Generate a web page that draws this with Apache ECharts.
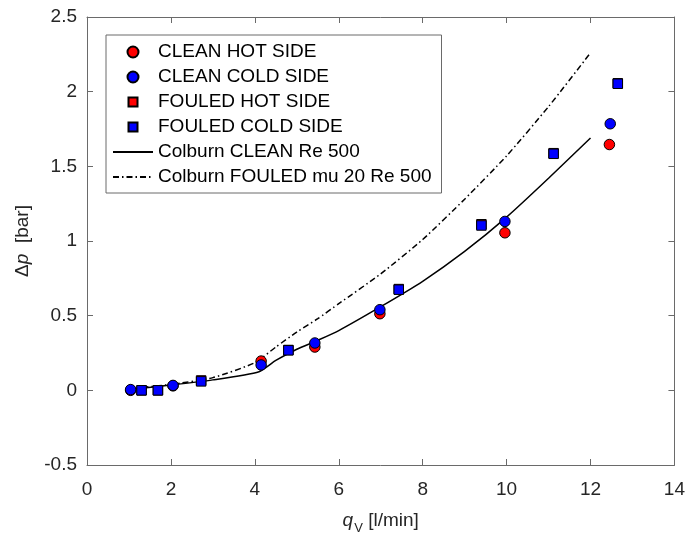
<!DOCTYPE html>
<html>
<head>
<meta charset="utf-8">
<script src="https://cdn.jsdelivr.net/npm/echarts@6/dist/echarts.min.js"></script>
<style>
  html, body { margin: 0; padding: 0; background: #fff; }
  #main { width: 688px; height: 540px; }
</style>
</head>
<body>
<div id="main"></div>
<script>
// values: [q_v (l/min), dp (bar)]
const cleanHot = [[1.04, 0.0], [2.05, 0.03], [4.15, 0.196], [5.43, 0.29], [6.98, 0.513], [9.96, 1.055], [12.45, 1.646]];
const cleanCold = [[1.04, 0.005], [2.05, 0.033], [4.15, 0.17], [5.43, 0.317], [6.98, 0.54], [9.96, 1.131], [12.47, 1.785]];
const fouledHot = [[1.30, 0.0], [1.69, 0.0], [2.72, 0.066], [4.80, 0.27], [7.43, 0.678], [9.40, 1.112], [11.12, 1.588], [12.65, 2.056]];
const fouledCold = [[1.30, 0.0], [1.69, 0.0], [2.72, 0.06], [4.80, 0.268], [7.43, 0.674], [9.40, 1.104], [11.12, 1.584], [12.65, 2.053]];

const colburnClean = [[1.0, 0.005], [2.0, 0.035], [3.0, 0.07], [4.1, 0.125], [4.5, 0.2], [5.0, 0.275], [5.5, 0.335],
  [6.0, 0.40], [7.0, 0.56], [8.0, 0.73], [9.0, 0.93], [10.0, 1.16], [11.0, 1.42], [12.0, 1.69]];
const colburnFouled = [[1.0, 0.01], [2.0, 0.04], [3.0, 0.085], [4.0, 0.185], [4.5, 0.29], [5.0, 0.39], [5.5, 0.48],
  [6.0, 0.58], [7.0, 0.78], [8.0, 1.01], [9.0, 1.28], [10.0, 1.57], [11.0, 1.90], [12.0, 2.26]];

const names = ['CLEAN HOT SIDE', 'CLEAN COLD SIDE', 'FOULED HOT SIDE', 'FOULED COLD SIDE',
  'Colburn CLEAN Re 500', 'Colburn FOULED mu 20 Re 500'];

const FONT = 'Liberation Sans, Arial, sans-serif';
const AXIS = '#6a6a6a';
const TXT = '#262626';
const squareIcon = 'path://M0,0L0,0M1,1h9v9h-9zM11,11L11,11';
const noSymbol = { color: 'rgba(0,0,0,0)', borderColor: 'rgba(0,0,0,0)', borderWidth: 0, opacity: 0 };

function axisBase(extra) {
  return Object.assign({
    type: 'value',
    axisLine: { show: true, onZero: false, lineStyle: { color: AXIS, width: 1 } },
    axisTick: { show: true, inside: true, length: 6, lineStyle: { color: AXIS } },
    splitLine: { show: false },
    axisLabel: { color: TXT, fontFamily: FONT, fontSize: 19 }
  }, extra);
}

function scatter(name, data, color, symbol, size, z) {
  return {
    name: name, type: 'scatter', data: data, symbol: symbol, symbolSize: size, z: z,
    itemStyle: { color: color, borderColor: '#000', borderWidth: 1, opacity: 1 }
  };
}

const chart = echarts.init(document.getElementById('main'));
chart.setOption({
  animation: false,
  backgroundColor: '#fff',
  grid: { left: 87, right: 11, top: 17, bottom: 75, containLabel: false },
  xAxis: [
    axisBase({
      min: 0, max: 14, interval: 2,
      axisLabel: { color: TXT, fontFamily: FONT, fontSize: 19, margin: 15 },
      name: '{i|q}{s|V}{n| [l/min]}',
      nameLocation: 'middle', nameGap: 42,
      nameTextStyle: {
        rich: {
          i: { fontFamily: FONT, fontSize: 19, fontStyle: 'italic', color: TXT },
          s: { fontFamily: FONT, fontSize: 13, color: TXT, padding: [15, 0, 0, 1] },
          n: { fontFamily: FONT, fontSize: 19, color: TXT }
        }
      }
    }),
    axisBase({ min: 0, max: 14, interval: 2, position: 'top', axisLabel: { show: false } })
  ],
  yAxis: [
    axisBase({
      min: -0.5, max: 2.5, interval: 0.5,
      axisLabel: { color: TXT, fontFamily: FONT, fontSize: 19, margin: 10 },
      name: '{a|Δ}{i|p}{a|  [bar]}',
      nameLocation: 'middle', nameGap: 55, nameRotate: 90,
      nameTextStyle: {
        rich: {
          a: { fontFamily: FONT, fontSize: 19, color: TXT },
          i: { fontFamily: FONT, fontSize: 19, fontStyle: 'italic', color: TXT }
        }
      }
    }),
    axisBase({ min: -0.5, max: 2.5, interval: 0.5, position: 'right', axisLabel: { show: false } })
  ],
  legend: {
    orient: 'vertical',
    left: 106, top: 35,
    padding: [7, 10, 6, 6],
    itemWidth: 40, itemHeight: 11, itemGap: 5,
    backgroundColor: '#fff',
    borderColor: '#6a6a6a', borderWidth: 1, borderRadius: 0,
    symbolKeepAspect: true,
    selectedMode: false,
    textStyle: { fontFamily: FONT, fontSize: 19, color: '#000', lineHeight: 20 },
    data: [
      { name: names[0], icon: 'circle' },
      { name: names[1], icon: 'circle' },
      { name: names[2], icon: squareIcon },
      { name: names[3], icon: squareIcon },
      { name: names[4], itemStyle: noSymbol },
      { name: names[5], itemStyle: noSymbol }
    ]
  },
  series: [
    {
      name: names[4], type: 'line', data: colburnClean, showSymbol: false, symbol: 'none',
      smooth: 0.2, z: 2,
      lineStyle: { color: '#000', width: 1.5, type: 'solid' },
      itemStyle: { color: '#000' }
    },
    {
      name: names[5], type: 'line', data: colburnFouled, showSymbol: false, symbol: 'none',
      smooth: 0.2, z: 2,
      lineStyle: { color: '#000', width: 1.5, type: [6, 3, 1.5, 3] },
      itemStyle: { color: '#000' }
    },
    scatter(names[0], cleanHot, '#ff0000', 'circle', 10.5, 3),
    scatter(names[1], cleanCold, '#0000ff', 'circle', 10.5, 4),
    scatter(names[2], fouledHot, '#ff0000', 'rect', 9.5, 5),
    scatter(names[3], fouledCold, '#0000ff', 'rect', 9.5, 6)
  ]
});
</script>
</body>
</html>
